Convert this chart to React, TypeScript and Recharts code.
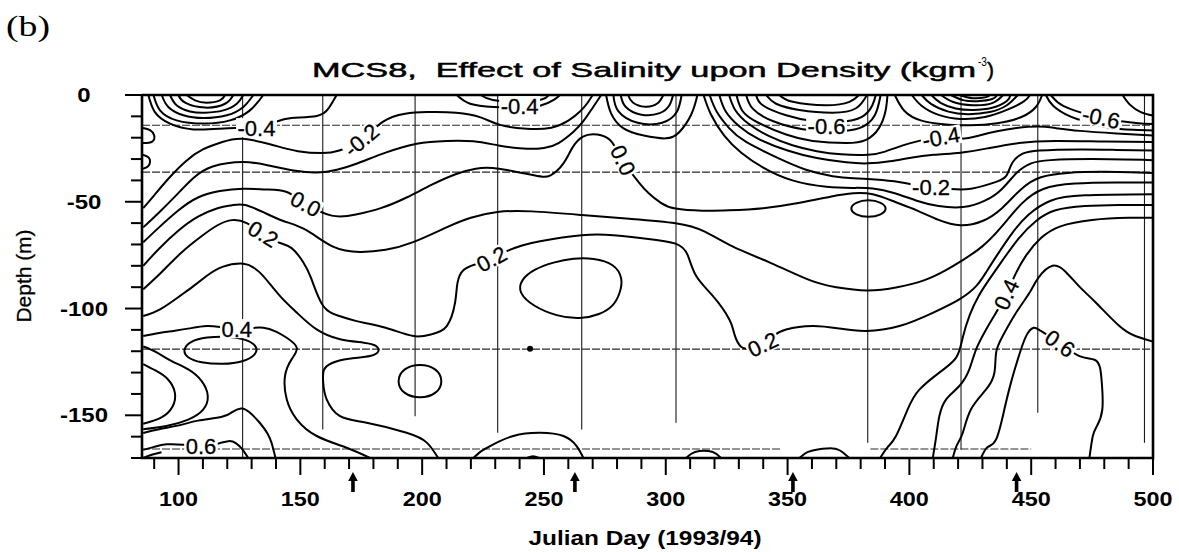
import React from 'react';
import { ComposedChart, Line, Scatter, XAxis, YAxis } from 'recharts';

type Pt = [number, number];

const W = 1179;
const H = 552;
const PLOT = { left: 142, top: 95, right: 1153, bottom: 458 };
const SANS = "'Liberation Sans', Arial, Helvetica, sans-serif";

// axis ticks (minor every 10, labelled every 50)
const dayTicks = [90, 100, 110, 120, 130, 140, 150, 160, 170, 180, 190, 200, 210, 220, 230, 240, 250, 260, 270, 280, 290, 300, 310, 320, 330, 340, 350, 360, 370, 380, 390, 400, 410, 420, 430, 440, 450, 460, 470, 480, 490, 500];
const depthTicks = [0, -10, -20, -30, -40, -50, -60, -70, -80, -90, -100, -110, -120, -130, -140, -150, -160, -170];
const cruiseArrowDays = [171.6, 262.7, 352.2, 444];

// sampling days (thin verticals) and the depth each profile reaches
const sampleDays = [126.3, 159.2, 197.1, 231, 265.5, 304.2, 382.9, 421.2, 452.7, 496.5];
const sampleBottoms = [-170, -156.6, -150.4, -158.2, -156.6, -153.5, -162.8, -166, -148.8, -162.8];

// instrument depths (dashed horizontals)
const instrumentDepths = [-14.2, -36.1, -119];
const deepInstrumentDepth = -165.8;
const deepInstrumentSpans: Pt[] = [[85, 347], [384, 450]];

// ---- contours, [day, depth] ----
// surface minimum near day 110
const nestA9: Pt[] = [[103.3, 0], [106.8, -2.5], [111.5, -3.6], [117, -2.5], [119.1, 0]];
const nestA8: Pt[] = [[99.9, 0], [102.7, -3.6], [110.9, -5.9], [119.1, -4.1], [122.5, 0]];
const nestA7: Pt[] = [[96.5, 0], [99.2, -4.8], [104.7, -7.7], [110.9, -8.3], [118.4, -7.2], [123.9, -4.1], [126.6, 0]];
const nestA6: Pt[] = [[93.1, 0], [95.8, -5.6], [102, -9.5], [110.2, -10.8], [119.8, -9.5], [126.6, -5.6], [130.7, 0]];
const nestA5: Pt[] = [[89.7, 0], [92.4, -7.2], [99.2, -11.9], [110.2, -13.4], [121.1, -11.9], [129.3, -7.2], [134.8, 0]];
const nestA4: Pt[] = [[87.6, 0], [90.3, -8], [96.5, -13.4], [106.1, -16.1], [117, -15.8], [124, -15.5], [132, -15.2], [140, -12.5], [146.4, -10.8], [156.7, -9.8], [161.5, -6.4], [164.9, 0]];
const edgeLoop1: Pt[] = [[85.4, -15.5], [88.3, -16.5], [90, -19], [89.2, -21.8], [85.4, -22.5]];
const edgeLoop2: Pt[] = [[85.4, -28], [87.6, -29.2], [88.3, -31.3], [87.4, -33.5], [85.4, -34.5]];

// upper band, from the left edge
const bandF1: Pt[] = [[85.5, -53], [90, -47], [96, -39], [103, -31], [110, -25.5], [118, -22], [126.5, -20.5], [139, -23.5], [149, -26.3], [159, -27.2], [166, -26], [175, -21], [184, -12.5], [193, -8.8], [202, -8], [214, -8.3], [224, -10.5], [232, -14], [243, -15.8], [253, -15.3], [260, -12], [265, -7.5], [268, -3.5], [270, 0]];
const bandF2: Pt[] = [[85.5, -62], [92, -55], [99, -47], [106, -39], [114, -33.5], [126.5, -31.4], [137, -33], [148, -35.5], [157, -36.3], [165, -35], [173, -32.2], [185, -27], [197.8, -22.8], [210, -21.5], [221, -21.7], [231.3, -23.6], [241.5, -25.1], [250, -24.8], [256, -22.5], [262, -17.3], [266, -12.5], [270, -6], [273.5, 0]];
const bandF3: Pt[] = [[85.5, -69], [92, -62], [100, -54], [108, -48], [117, -45], [126.5, -43.9], [136, -44.2], [144.4, -45.4], [152.2, -50.9], [162.9, -56.5], [172.8, -56], [183, -53], [193.6, -48], [204, -42], [214, -37], [222, -34.5], [231.5, -34.5], [245.9, -37.6], [252.7, -37.6], [258, -32], [261.5, -25], [266, -19.5], [271.9, -18.5], [277, -21], [280, -26], [282.5, -30.5], [285, -35], [289, -41], [293, -46], [298, -50.5], [304, -53.2], [315, -54.2], [326, -54], [340, -53], [355, -50.5], [368, -47.5], [377, -46], [385, -46.5], [394, -50], [403, -54], [412, -58.5], [421, -61], [430, -59], [438, -53], [446, -44], [454, -38.5], [465, -36.5], [480, -36], [500, -36.5]];
const bandG: Pt[] = [[85.5, -80], [92, -72], [100, -63.5], [108, -57], [116, -53], [122, -51.6], [127.3, -51.5], [135, -55], [143, -59], [152.3, -63.2], [163.4, -71], [174.5, -73.5], [185, -72.5], [196.3, -68.9], [210, -62], [220, -57.5], [230.9, -54.8], [245, -54.5], [265.5, -56.2], [285, -58], [304, -60.1], [316, -64], [327.6, -71], [343.2, -78.7], [359.1, -86.7], [370, -90], [382.6, -91.5], [395, -90], [406.2, -86.7], [415, -82], [421.9, -77.3], [429.8, -71], [437.6, -62], [446, -51], [455, -44], [468, -41.5], [485, -41], [500, -41]];
const bandF4: Pt[] = [[85.5, -91], [93, -83], [101, -74], [109, -66.5], [116, -61], [122, -58.6], [128, -60], [134.8, -65], [141, -69], [146.4, -71.7], [151, -78], [154.5, -86], [159.4, -98.8], [166, -103.5], [173.1, -105.9], [185, -109], [196.4, -112.9], [204, -112], [210.1, -108.2], [213.5, -97.3], [214.5, -88], [217, -82], [222, -79.3], [228.5, -76.7], [235, -73], [241, -70.5], [248.4, -68.5], [265.5, -65.7], [278.5, -65.7], [292, -67.3], [304, -69.6], [309, -75], [312.5, -84.8], [319.3, -94.1], [326.1, -105.1], [328.2, -112.1], [331, -118], [335, -118.5], [339.8, -116.8], [344, -113], [349.4, -109.8], [360.3, -108.2], [371.3, -109.4], [382.2, -110.5], [395.9, -108.2], [409.6, -102], [420.5, -95.7], [427.4, -89.5], [431.5, -83], [436, -75], [442, -65], [449, -56], [458, -49.5], [472, -47], [500, -46.5]];

// surface minima near days 265 and 293
const nestB1: Pt[] = [[214.2, 0], [219.7, -4.1], [229.3, -5.6], [239.5, -5.8], [248.4, -5], [254, -2.3], [256.6, 0]];
const nestB2: Pt[] = [[224, 0], [229, -2.3], [240, -3], [249, -2.1], [252, 0]];
const nestC1: Pt[] = [[284.5, 0], [286.5, -3.5], [291.5, -5.5], [296.5, -4], [299, 0]];
const nestC2: Pt[] = [[281.5, 0], [283.5, -5.5], [290, -9.2], [297.5, -8.5], [301.5, -4.8], [303, 0]];
const nestC3: Pt[] = [[278.5, 0], [280.5, -7.5], [288.5, -13], [298.5, -13], [304.5, -8], [306.5, 0]];
const nestC4: Pt[] = [[275.5, 0], [277.5, -8.5], [282.5, -15.5], [291, -19], [300, -20.3], [305.6, -17.3], [310.5, -9], [313, 0]];

// lines leaving the surface between days 315 and 330
const bandM1: Pt[] = [[315.5, 0], [318.5, -9], [324, -19], [331, -27], [340, -34], [352, -40], [366, -43], [377, -43.5], [385, -43.8], [394, -46], [403, -49.5], [412, -52], [422, -52.5], [431, -49.5], [438, -44], [444, -36.5], [450, -32], [458, -30.5], [475, -30], [500, -30.5]];
const bandM2: Pt[] = [[318, 0], [321, -8], [326, -15.5], [333, -22], [346.6, -29.8], [357.6, -35], [368.5, -38], [377, -39], [383, -39.3], [393.8, -40.4], [401, -41.8], [408.9, -43.1], [417, -44], [425.3, -43.9], [435.6, -40.7], [440, -37.5], [442.4, -31.5], [446.5, -27.5], [453.4, -26], [470, -25.5], [485, -25.7], [500, -26]];
const bandM3: Pt[] = [[322, 0], [324.5, -7.5], [330, -14.5], [338, -20.5], [350, -26], [362, -29.5], [374, -31.5], [383, -32], [392, -31], [400, -29.5], [410, -28], [421, -27], [432, -25], [445, -22.5], [460, -21.5], [480, -21.8], [500, -22]];
const bandM4: Pt[] = [[326, 0], [328.5, -7], [334, -13.5], [342, -19], [352, -23.5], [362, -26.3], [372, -27.8], [383, -28], [390, -26.5], [397.3, -23.6], [405, -21.2], [413, -19.7], [421.2, -20.5], [428.7, -19], [436, -17], [444, -15.5], [452.7, -14.8], [460, -15.5], [470, -16.8], [485, -18], [500, -19]];

// surface minimum near day 360
const nestD1: Pt[] = [[329, 0], [331.5, -7.5], [338, -13], [349.4, -18.5], [360.3, -21.5], [374, -22.5], [382.2, -21], [387.5, -15.5], [390.2, -7.5], [391, 0]];
const nestD2: Pt[] = [[333, 0], [335.7, -6.4], [343.9, -12.2], [356.2, -16], [368.5, -17], [379.5, -15.5], [385.8, -9.5], [388.2, 0]];
const nestD3: Pt[] = [[337.1, 0], [339.8, -4.8], [349.4, -9.5], [360.3, -12.2], [371.3, -12.6], [380.5, -10.2], [384.8, -4.8], [386.2, 0]];
const nestD4: Pt[] = [[341.2, 0], [345.3, -4.1], [354.8, -7], [368.5, -8.3], [378.1, -6.2], [382.6, 0]];
const nestD5: Pt[] = [[346.6, 0], [352.1, -3.2], [365.8, -4.8], [375.4, -3.2], [379.3, 0]];

// dense surface minimum near day 425
const nestE0: Pt[] = [[394, 0], [398, -7.5], [405, -12], [415, -13.8], [425, -14.2], [436, -13.2], [446, -10.3], [452, -5.5], [454.5, 0]];
const nestE1: Pt[] = [[401, 0], [405, -5], [412, -9.3], [421, -11.2], [431, -10.3], [440, -7], [447, -3], [449.5, 0]];
const nestE2: Pt[] = [[405, 0], [409, -4.3], [416, -7.8], [424, -9], [433, -8], [440, -4.8], [444.5, 0]];
const nestE3: Pt[] = [[409, 0], [413, -3.8], [419, -6.3], [426, -7], [434, -6], [440, -2.8], [441.5, 0]];
const nestE4: Pt[] = [[413, 0], [418, -3.3], [426, -4.8], [434, -3.8], [438.5, 0]];
const nestE5: Pt[] = [[417, 0], [422, -2.4], [428, -2.9], [434, -1.9], [436, 0]];
const nestE6: Pt[] = [[420.5, 0], [426, -1.5], [431.5, -1], [433, 0]];

// right-hand surface lines
const edgeR1: Pt[] = [[456, 0], [459, -5], [466, -10], [474, -13], [482, -15.3], [492, -16.3], [500, -16.6]];
const edgeR2: Pt[] = [[458, 0], [461, -3.5], [466, -6.5], [474, -9.3], [478.7, -10.5], [487, -12.3], [494, -13.2], [500, -13.6]];
const edgeR3: Pt[] = [[487.5, 0], [490.5, -4.5], [495, -8], [500, -9.6]];

// steep lines reaching the bottom after day 385
const steepS1: Pt[] = [[388, -170], [391, -165], [394.5, -159.7], [399.3, -147.2], [404.1, -138], [412.3, -130], [419.2, -123], [421.8, -114], [424.8, -103], [428.5, -94], [433, -86], [438.5, -77], [445, -67], [452, -59], [460, -54], [472, -52], [486, -51.5], [500, -51.5]];
const steepS2: Pt[] = [[409.6, -170], [411, -160], [412.3, -150.4], [415.1, -142.5], [420.5, -136.3], [424.6, -128.5], [427.4, -119.1], [431.5, -109.8], [435, -103], [439.7, -93.4], [443.5, -84], [448, -75], [454, -67], [462, -61.5], [475, -58.5], [490, -57.5], [500, -57.5]];
const steepS3: Pt[] = [[417.8, -170], [419.5, -164], [421.9, -158.2], [425.3, -147.2], [431.5, -137.9], [434.9, -130.1], [435.6, -120.7], [438.3, -112.9], [443.8, -102], [449.3, -92.6], [453, -85.5], [458.8, -80], [464.3, -83], [470, -90], [476.6, -97.3], [486.2, -108.2], [493, -113], [500, -115.5]];
const steepS4: Pt[] = [[429.4, -170], [432, -165], [435.6, -161.3], [439, -147.2], [441.7, -134.7], [444.5, -123.8], [447.9, -112.9], [451, -109], [454, -110.5], [461.9, -116.3], [469.8, -122.3], [476, -124], [478.3, -128], [479, -135], [479.2, -147.2], [477, -155], [475.3, -159.7], [473.9, -170]];

// lower left
const lowH: Pt[] = [[85.5, -103.5], [92.4, -100.4], [100.6, -94.1], [106.1, -89.5], [111.5, -84.8], [118, -80.5], [126.6, -79], [131, -81], [134.8, -84.8], [141.6, -94.1], [148.5, -101.9], [156.7, -109.8], [166.3, -114.4], [176, -116], [181, -117.5], [182, -120], [178.6, -122.2], [170, -123.5], [163, -125.5], [159.6, -129], [159.4, -135], [160.8, -142.5], [166.3, -150.4], [177.2, -153.5], [193.6, -158.2], [201.9, -162.8], [206.6, -170]];
const lowK: Pt[] = [[85.5, -112.9], [92, -111.5], [97.9, -110.5], [104.5, -109.3], [111.5, -108.2], [117.5, -108.7], [123.9, -109.4], [129.5, -109.2], [134.8, -109], [140, -110.8], [144.4, -113.7], [148.5, -118.3], [146.4, -123.8], [143.7, -131.6], [144.4, -142.5], [148.5, -151.9], [156.7, -159.7], [169, -165.2], [178.6, -170]];
const lowL1: Pt[] = [[85.5, -126], [90.5, -129], [95.5, -133], [98.5, -139.5], [97.5, -146], [93, -151], [85.5, -154]];
const lowL1b: Pt[] = [[85.5, -117.8], [91, -120.5], [97, -124.5], [104, -128.5], [109.5, -134], [112, -141], [110, -147.5], [104, -152], [95, -155], [85.5, -156.5]];
const lowL2: Pt[] = [[85.5, -158.3], [92, -156.5], [100.6, -154.6], [108, -152.5], [117.8, -150.7], [122, -148.5], [125.6, -146.8], [129, -148.5], [133.4, -153.6], [136.5, -158.5], [138.2, -163], [139.8, -170]];
const lowL3: Pt[] = [[85.5, -166.2], [90, -164.8], [95.1, -163.6], [102, -163.8], [109.2, -164.4], [116, -163.3], [120.4, -162.1], [123.5, -163], [126.2, -166], [128.6, -170]];
const lowL4: Pt[] = [[85.5, -170], [89, -168.5], [93, -167.3]];

// bottom humps
const humpA: Pt[] = [[221, -170], [224, -167], [227.9, -164.4], [237.4, -159.7], [248.4, -158.2], [258, -159.7], [263.4, -164.4], [266.2, -170]];
const humpB: Pt[] = [[243, -170], [245.5, -169.2], [248, -170]];
const humpC: Pt[] = [[308.3, -170], [310.5, -168], [313.8, -166.7], [319.3, -167.2], [322.7, -170]];
const humpD: Pt[] = [[354.8, -170], [357, -168], [360.3, -166.5], [368.5, -165.5], [372.6, -167.3], [375.4, -170]];

// closed contours
const ringA: Pt[] = [[101.7, -119.4], [104.7, -115.2], [111.5, -113.4], [119.8, -112.9], [128, -114.4], [132.3, -117.6], [132.1, -121.5], [126.6, -125.1], [118.4, -126.2], [108.8, -125.4], [103.3, -123]];
const ringB: Pt[] = [[189.5, -134], [192, -128], [199.1, -125.6], [206.2, -128], [208.7, -134], [206.2, -140], [199.1, -142.4], [192, -140]];
const ringC: Pt[] = [[239.5, -92.6], [240.5, -86.5], [246, -81.5], [253.9, -78.3], [262.1, -76.4], [270.3, -76.3], [279, -79], [282.5, -86], [281.2, -93], [278.5, -99], [273, -102.8], [264.8, -105.1], [255.2, -103.6], [245.6, -99]];
const ringD: Pt[] = [[375.4, -53.2], [377.7, -50.2], [383.2, -48.9], [388.7, -50.2], [391, -53.2], [388.7, -56.2], [383.2, -57.5], [377.7, -56.2]];
const spotDay = 244.3;
const spotDepth = -118.8;

const openContours: Pt[][] = [
  nestA9, nestA8, nestA7, nestA6, nestA5, nestA4, edgeLoop1, edgeLoop2,
  bandF1, bandF2, bandF3, bandG, bandF4,
  nestB1, nestB2, nestC1, nestC2, nestC3, nestC4,
  bandM1, bandM2, bandM3, bandM4,
  nestD1, nestD2, nestD3, nestD4, nestD5,
  nestE0, nestE1, nestE2, nestE3, nestE4, nestE5, nestE6,
  edgeR1, edgeR2, edgeR3,
  steepS1, steepS2, steepS3, steepS4,
  lowH, lowK, lowL1, lowL1b, lowL2, lowL3, lowL4,
  humpA, humpB, humpC, humpD,
];
const closedContours: Pt[][] = [ringA, ringB, ringC, ringD];

// contour labels: position, text, rotation along the line
const contourLabels = [
  { day: 132, depth: -15.3, text: '-0.4', angle: 0 },
  { day: 175, depth: -21, text: '-0.2', angle: -40 },
  { day: 152.2, depth: -50.9, text: '0.0', angle: 28 },
  { day: 134.8, depth: -65, text: '0.2', angle: 31 },
  { day: 240, depth: -5, text: '-0.4', angle: 0 },
  { day: 228.5, depth: -76.7, text: '0.2', angle: -28 },
  { day: 282.5, depth: -30.5, text: '0.0', angle: 65 },
  { day: 366, depth: -14.5, text: '-0.6', angle: 0 },
  { day: 413, depth: -19.7, text: '-0.4', angle: -10 },
  { day: 408.9, depth: -43.1, text: '-0.2', angle: 0 },
  { day: 478.7, depth: -10.5, text: '-0.6', angle: 12 },
  { day: 339.8, depth: -116.8, text: '0.2', angle: -25 },
  { day: 439.7, depth: -93.4, text: '0.4', angle: -65 },
  { day: 461.9, depth: -116.3, text: '0.6', angle: 35 },
  { day: 123.9, depth: -109.4, text: '0.4', angle: 0 },
  { day: 109.2, depth: -164.4, text: '0.6', angle: 0 },
];

const rows = (pts: Pt[]) => pts.map(([day, depth]) => ({ day, depth }));

const charEm: Record<string, number> = { '-': 0.333, '.': 0.278 };
const textEm = (s: string) => s.split('').reduce((w, c) => w + (charEm[c] ?? 0.556), 0);

const renderDayTick = (props: any) => {
  const { x, payload } = props;
  const v = payload.value;
  if (cruiseArrowDays.includes(v)) {
    const b = PLOT.bottom;
    return (
      <path
        d={`M${x},${b + 14} L${x + 4.8},${b + 23} L${x + 1.8},${b + 23} L${x + 1.8},${b + 34} L${x - 1.8},${b + 34} L${x - 1.8},${b + 23} L${x - 4.8},${b + 23} Z`}
        fill="#000"
      />
    );
  }
  const major = v % 50 === 0;
  const label = String(v);
  return (
    <g>
      <line x1={x} x2={x} y1={PLOT.bottom} y2={PLOT.bottom + (major ? 17 : 11)} stroke="#000" strokeWidth={2} />
      {major && (
        <text x={x} y={PLOT.bottom + 48} textAnchor="middle" fontFamily={SANS} fontWeight={700} fontSize={20}
          textLength={textEm(label) * 20 * 1.17} lengthAdjust="spacingAndGlyphs" fill="#000">
          {label}
        </text>
      )}
    </g>
  );
};

const renderDepthTick = (props: any) => {
  const { y, payload } = props;
  const v = payload.value;
  const major = v % 50 === 0;
  const label = String(v);
  return (
    <g>
      <line x1={PLOT.left - (major ? 17 : 11)} x2={PLOT.left} y1={y} y2={y} stroke="#000" strokeWidth={2} />
      {major && (
        <text x={84} y={y + 7} textAnchor="middle" fontFamily={SANS} fontWeight={700} fontSize={20}
          textLength={textEm(label) * 20 * 1.2} lengthAdjust="spacingAndGlyphs" fill="#000">
          {label}
        </text>
      )}
    </g>
  );
};

const renderContourLabel = (props: any) => {
  const { cx, cy, payload } = props;
  const w = textEm(payload.text) * 22 + 3;
  return (
    <g transform={`translate(${cx},${cy}) rotate(${payload.angle})`}>
      <rect x={-w / 2} y={-9.5} width={w} height={19} fill="#fff" />
      <text x={0} y={8} textAnchor="middle" fontFamily={SANS} fontSize={22} fill="#000" stroke="#000" strokeWidth={0.3}>
        {payload.text}
      </text>
    </g>
  );
};

const renderSpot = (props: any) => <circle cx={props.cx} cy={props.cy} r={3} fill="#000" />;

const lineProps = { dataKey: 'depth', dot: false, activeDot: false, isAnimationActive: false } as const;

export default function App() {
  const border = rows([[85, 0], [500, 0], [500, -170], [85, -170], [85, 0]]);
  return (
    <div style={{ position: 'absolute', left: 0, top: 0, width: W, height: H, background: '#fff' }}>
      <ComposedChart width={W} height={H} margin={{ top: PLOT.top, right: W - PLOT.right, bottom: 0, left: 0 }}>
        <XAxis type="number" dataKey="day" domain={[85, 500]} ticks={[...dayTicks, ...cruiseArrowDays]} interval={0}
          height={H - PLOT.bottom} tick={renderDayTick} tickLine={false} axisLine={false} />
        <YAxis type="number" dataKey="depth" domain={[-170, 0]} ticks={depthTicks} interval={0}
          width={PLOT.left} tick={renderDepthTick} tickLine={false} axisLine={false} />

        {sampleDays.map((d, i) => (
          <Line key={`s${i}`} {...lineProps} data={rows([[d, 0], [d, sampleBottoms[i]]])} type="linear" stroke="#1a1a1a" strokeWidth={1.1} />
        ))}
        {instrumentDepths.map((z, i) => (
          <Line key={`i${i}`} {...lineProps} data={rows([[85, z], [500, z]])} type="linear" stroke="#2a2a2a" strokeWidth={1.1} strokeDasharray="8 2" />
        ))}
        {deepInstrumentSpans.map(([a, b], i) => (
          <Line key={`d${i}`} {...lineProps} data={rows([[a, deepInstrumentDepth], [b, deepInstrumentDepth]])} type="linear" stroke="#2a2a2a" strokeWidth={1.1} strokeDasharray="8 2" />
        ))}

        {openContours.map((pts, i) => (
          <Line key={`c${i}`} {...lineProps} data={rows(pts)} type="natural" stroke="#000" strokeWidth={2} />
        ))}
        {closedContours.map((pts, i) => (
          <Line key={`r${i}`} {...lineProps} data={rows(pts)} type="basisClosed" stroke="#000" strokeWidth={2} />
        ))}

        <Scatter data={[{ day: spotDay, depth: spotDepth }]} dataKey="depth" shape={renderSpot} isAnimationActive={false} />
        <Scatter data={contourLabels} dataKey="depth" shape={renderContourLabel} isAnimationActive={false} />

        <Line {...lineProps} data={border} type="linear" stroke="#000" strokeWidth={2.6} />
      </ComposedChart>

      <svg width={W} height={H} style={{ position: 'absolute', left: 0, top: 0, pointerEvents: 'none' }}>
        <text x={6} y={36} fontFamily="'Liberation Serif', 'Times New Roman', serif" fontSize={30} textLength={44} lengthAdjust="spacingAndGlyphs">(b)</text>
        <text x={312} y={77} fontFamily={SANS} fontSize={21} textLength={664} lengthAdjust="spacingAndGlyphs"
          stroke="#000" strokeWidth={0.5} style={{ whiteSpace: 'pre' }}>
          MCS8,  Effect of Salinity upon Density (kgm
        </text>
        <text x={978} y={66} fontFamily={SANS} fontSize={12} textLength={9} lengthAdjust="spacingAndGlyphs">-3</text>
        <text x={987} y={77} fontFamily={SANS} fontSize={21} textLength={7} lengthAdjust="spacingAndGlyphs" stroke="#000" strokeWidth={0.5}>)</text>
        <text transform="translate(31,276) rotate(-90)" textAnchor="middle" fontFamily={SANS} fontSize={20}
          textLength={93} lengthAdjust="spacingAndGlyphs" stroke="#000" strokeWidth={0.3}>Depth (m)</text>
        <text x={645} y={545} textAnchor="middle" fontFamily={SANS} fontWeight={700} fontSize={20}
          textLength={233} lengthAdjust="spacingAndGlyphs">Julian Day (1993/94)</text>
      </svg>
    </div>
  );
}
